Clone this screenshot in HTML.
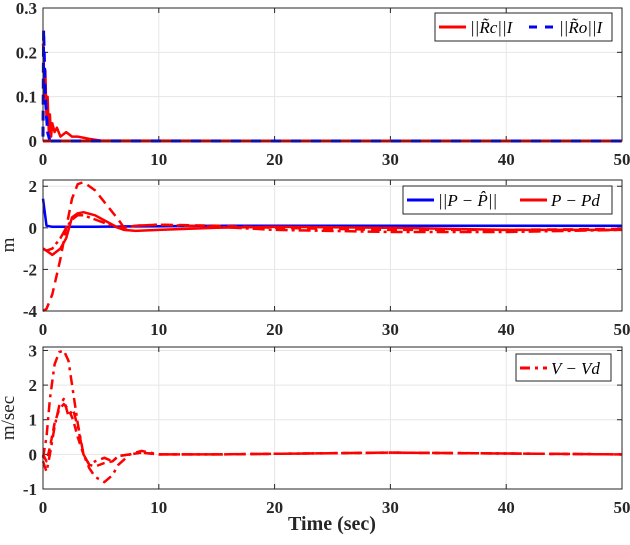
<!DOCTYPE html>
<html><head><meta charset="utf-8"><style>
body{margin:0;background:#fff;width:630px;height:540px;overflow:hidden}
text{font-family:"Liberation Serif",serif}
.tk{font-weight:bold;font-size:17px;fill:#262626}
.lg{font-style:italic;font-size:17px;fill:#000}
</style></head><body>
<svg id="c" width="630" height="540"></svg>
<script>
const xTicks=[0,10,20,30,40,50];
const y1Ticks=[0,0.1,0.2,0.3];
const y2Ticks=[-4,-2,0,2];
const y3Ticks=[-1,0,1,2,3];
// subplot 1
const t1=[0,0.05,0.1,0.2,0.3,0.4,0.5,0.6,0.7,0.8,1,1.2,1.5,2,2.5,3,4,5,50];
const rc=[0.22,0.2,0.1,0.16,0.05,0.1,0.02,0.06,0.01,0.04,0.02,0.03,0.01,0.02,0.01,0.01,0.005,0.001,0];
const t1b=[0,0.05,0.1,0.2,0.4,0.6,50];
const ro=[0.01,0.25,0.2,0.1,0.02,0,0];
// subplot 2
const t2=[0,0.3,0.8,1.5,2,2.5,3,3.5,4.5,5.5,6.5,7,8,10,15,20,30,40,50];
const phat=[1.4,0.1,0.05,0.05,0.05,0.05,0.05,0.05,0.05,0.06,0.06,0.07,0.07,0.08,0.1,0.1,0.1,0.1,0.1];
const p1=[-1,-1.1,-1.3,-1,-0.5,0.5,0.7,0.75,0.6,0.3,0,-0.1,-0.15,-0.1,0,0.05,0,-0.1,-0.1];
const p2=[-4,-3.9,-3.2,-1.5,0,1.4,2.1,2.2,1.8,1.1,0.4,0,0.1,0.15,0.1,0,-0.1,-0.1,-0.05];
const p3=[-1,-1.1,-1,-0.5,0,0.4,0.6,0.6,0.4,0.2,0,0,0.1,0.15,0.05,-0.1,-0.2,-0.2,-0.1];
// subplot 3
const t3=[0,0.3,0.6,1,1.4,1.8,2.2,2.6,3,3.5,4,4.5,5.3,6,6.5,7.5,8.5,10,15,30,50];
const v1=[-0.1,0.5,1.6,2.6,2.95,3.0,2.7,1.8,0.9,0,-0.4,-0.65,-0.8,-0.6,-0.3,0,0.1,0,0,0.05,0];
const v2=[-0.2,-0.5,0,0.8,1.4,1.6,1.1,1.3,0.8,0,-0.3,-0.2,-0.1,-0.2,-0.05,0,0.05,0,0,0.05,0];
const v3=[0,-0.2,0.2,0.9,1.3,1.45,1.3,1.0,0.5,0,-0.3,-0.35,-0.25,-0.2,-0.05,0,0.05,0,0,0.05,0];
const svg=document.getElementById('c'),NS='http://www.w3.org/2000/svg';
function mk(tag,at,txt){const e=document.createElementNS(NS,tag);for(const k in at)e.setAttribute(k,at[k]);if(txt!=null)e.textContent=txt;svg.appendChild(e);return e;}
const L=43,R=622;
const xs=v=>L+(v-0)/50*(R-L);
function axes(top,bot,ymin,ymax,yt,name){
 const ys=v=>bot-(v-ymin)/(ymax-ymin)*(bot-top);
 const bg=mk('rect',{x:L,y:top,width:R-L,height:bot-top,fill:'#fff'});
 
 xTicks.forEach(v=>{mk('line',{x1:xs(v),x2:xs(v),y1:top,y2:bot,stroke:'#e6e6e6','stroke-width':1});});
 yt.forEach(v=>{mk('line',{x1:L,x2:R,y1:ys(v),y2:ys(v),stroke:'#e6e6e6','stroke-width':1});
  const t=mk('text',{x:L-6,y:ys(v)+6,'text-anchor':'end',class:'tk'},String(v));
  
  mk('line',{x1:L,x2:L+5,y1:ys(v),y2:ys(v),stroke:'#262626'});mk('line',{x1:R,x2:R-5,y1:ys(v),y2:ys(v),stroke:'#262626'});});
 xTicks.forEach(v=>{const t=mk('text',{x:xs(v),y:bot+24,'text-anchor':'middle',class:'tk'},String(v));
  
  mk('line',{x1:xs(v),x2:xs(v),y1:bot,y2:bot-5,stroke:'#262626'});mk('line',{x1:xs(v),x2:xs(v),y1:top,y2:top+5,stroke:'#262626'});});
 return ys;
}
function line(tx,vy,ys,col,dash,w,name){
 const d=tx.map((t,i)=>(i?'L':'M')+xs(t).toFixed(1)+','+ys(vy[i]).toFixed(1)).join('');
 const p=mk('path',{d:d,fill:'none',stroke:col,'stroke-width':w,'stroke-dasharray':dash,'stroke-linejoin':'round'});
 
}
function frame(top,bot){mk('rect',{x:L,y:top,width:R-L,height:bot-top,fill:'none',stroke:'#262626','stroke-width':1});}
// plot 1
let ys=axes(8,141,0,0.3,y1Ticks,'top');
line(t1,rc,ys,'#f00','',2.5,'rc-line');
line(t1b,ro,ys,'#00f','10,6',3,'ro-line');
mk('line',{x1:L,x2:R,y1:ys(0),y2:ys(0),stroke:'#f00','stroke-width':3});
mk('line',{x1:L+8,x2:R,y1:ys(0),y2:ys(0),stroke:'#00f','stroke-width':3,'stroke-dasharray':'10,10'});
frame(8,141);
// plot 2
ys=axes(180,311,-4,2.3,y2Ticks,'mid');
line(t2,phat,ys,'#00f','',2.5,'p-hat-line');
line(t2,p1,ys,'#f00','',2.5,'p-x-line');
line(t2,p2,ys,'#f00','10,6',2.5,'p-y-line');
line(t2,p3,ys,'#f00','12,4,3,4',2.5,'p-z-line');
frame(180,311);
// plot 3
ys=axes(347,489,-1,3.1,y3Ticks,'bot');
line(t3,v1,ys,'#f00','10,5,3,5',2.5,'v-x-line');
line(t3,v2,ys,'#f00','10,5,3,5',2.5,'v-y-line');
line(t3,v3,ys,'#f00','8,5',2.5,'v-z-line');
frame(347,489);
// legends
function legend(x,y,w,h,name){const r=mk('rect',{x:x,y:y,width:w,height:h,fill:'#fff',stroke:'#262626','stroke-width':1});}
legend(435,13,177,28,'top-legend');
mk('line',{x1:439,x2:466,y1:27,y2:27,stroke:'#f00','stroke-width':3});
mk('text',{x:470,y:33,class:'lg'},'||R̃c||I');
mk('line',{x1:529,x2:556,y1:27,y2:27,stroke:'#00f','stroke-width':3,'stroke-dasharray':'8,8'});
mk('text',{x:559,y:33,class:'lg'},'||R̃o||I');
legend(403,186,209,28,'mid-legend');
mk('line',{x1:407,x2:434,y1:200,y2:200,stroke:'#00f','stroke-width':3});
mk('text',{x:438,y:206,class:'lg'},'||P − P̂||');
mk('line',{x1:520,x2:547,y1:200,y2:200,stroke:'#f00','stroke-width':3});
mk('text',{x:551,y:206,class:'lg'},'P − Pd');
legend(516,354,95,27,'bot-legend');
mk('line',{x1:520,x2:547,y1:368,y2:368,stroke:'#f00','stroke-width':3,'stroke-dasharray':'10,5,3,5'});
mk('text',{x:551,y:374,class:'lg'},'V − Vd');
// axis labels
let t=mk('text',{x:14,y:245,'font-size':19,fill:'#262626',transform:'rotate(-90 14 245)','text-anchor':'middle'},'m');

t=mk('text',{x:14,y:418,'font-size':19,fill:'#262626',transform:'rotate(-90 14 418)','text-anchor':'middle'},'m/sec');

t=mk('text',{x:332,y:530,'font-size':20,'font-weight':'bold',fill:'#262626','text-anchor':'middle'},'Time (sec)');

</script></body></html>
